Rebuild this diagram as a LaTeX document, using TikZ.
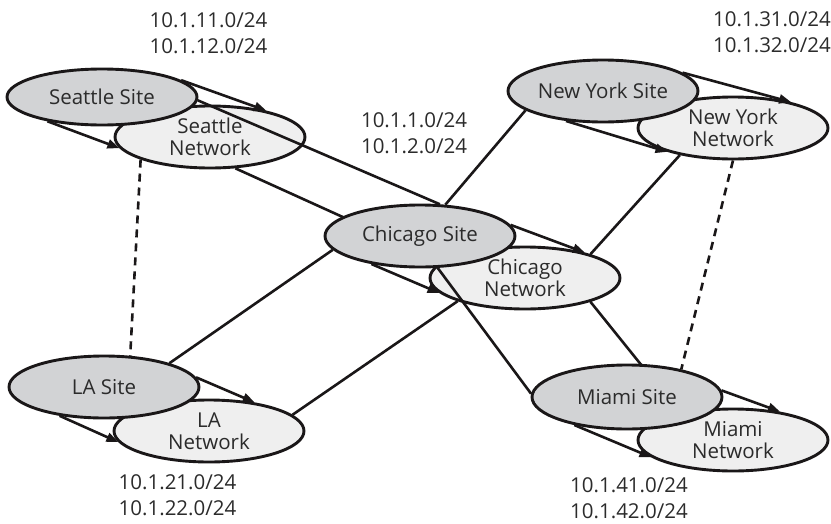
\documentclass[tikz,border=0pt]{standalone}
\usepackage{fontspec}
\setmainfont{Open Sans}
\usetikzlibrary{shapes.geometric,arrows.meta}
\pgfdeclarelayer{back}
\pgfsetlayers{back,main}
\definecolor{sitefill}{HTML}{D2D3D5}
\definecolor{netfill}{HTML}{EFEFEF}
\definecolor{ink}{HTML}{1A1718}
\definecolor{txt}{HTML}{2B2B2B}
\begin{document}
\begin{tikzpicture}[x=1pt,y=-1pt,
  base/.style={ellipse, draw=ink, line width=2.9pt, inner sep=0pt,
    minimum width=190pt, minimum height=62pt, text=txt,
    font=\fontsize{20.5}{22}\selectfont, align=center},
  site/.style={base, fill=sitefill},
  net/.style={base, fill=netfill},
  link/.style={draw=ink, line width=2.6pt},
  feed/.style={link, -{Triangle[length=12pt,width=9pt]}},
  dashlink/.style={link, dash pattern=on 8pt off 6pt},
  addr/.style={text=txt, font=\fontsize{20.5}{26}\selectfont, align=center, inner sep=0pt}]
\useasboundingbox (0,0) rectangle (831,523);

% network ellipses
\node[net] (sn) at (210,137) {Seattle\\Network};
\node[net] (cn) at (525,278) {Chicago\\Network};
\node[net] (nn) at (733,128) {New York\\Network};
\node[net] (ln) at (209,431) {LA\\Network};
\node[net] (mn) at (733,440) {Miami\\Network};

% site ellipses
\node[site, minimum height=56pt] (ss) at (102,97) {Seattle Site};
\node[site] (cs) at (420,236) {Chicago Site};
\node[site] (ns) at (603,91) {New York Site};
\node[site] (ls) at (104,387) {LA Site};
\node[site, minimum height=64pt] (ms) at (627,397) {Miami Site};

% site -> network arrows
\draw[feed] (ss.12) -- (sn.25);
\draw[feed] (ss.204) -- (sn.187);
\draw[feed] (cs.7) -- (cn.23);
\draw[feed] (cs.210) -- (cn.190);
\draw[feed] (ns.13) -- (nn.24);
\draw[feed] (ns.219) -- (nn.200);
\draw[feed] (ls.6) -- (ln.32);
\draw[feed] (ls.213) -- (ln.187);
\draw[feed] (ms.4) -- (mn.31);
\draw[feed] (ms.208) -- (mn.192);

% site-level links
\draw[link] (ss.-2) -- (cs.58);
\draw[link] (ns.194) -- (cs.51);
\draw[link] (ls.20) -- (cs.189);
\draw[link] (cs.-61) -- (ms.178);

% network-level links (beneath)
\begin{pgfonlayer}{back}
\draw[link] (sn.-51) -- (cn.169);
\draw[link] (nn.207) -- (cn.20);
\draw[link] (ln.11) -- (cn.199);
\draw[link] (cn.-20) -- (mn.153);
\draw[dashlink] (sn.198) -- (ls.50);
\draw[dashlink] (nn.-90) -- (ms.27);
\end{pgfonlayer}

% address labels
\node[addr] (a1) at (208.5,33.5) {10.1.11.0/24\\10.1.12.0/24};
\node[addr] (a2) at (414,133) {10.1.1.0/24\\10.1.2.0/24};
\node[addr] (a3) at (772,32.5) {10.1.31.0/24\\10.1.32.0/24};
\node[addr] (a4) at (177.5,495) {10.1.21.0/24\\10.1.22.0/24};
\node[addr] (a5) at (629,498) {10.1.41.0/24\\10.1.42.0/24};
\end{tikzpicture}
\end{document}
